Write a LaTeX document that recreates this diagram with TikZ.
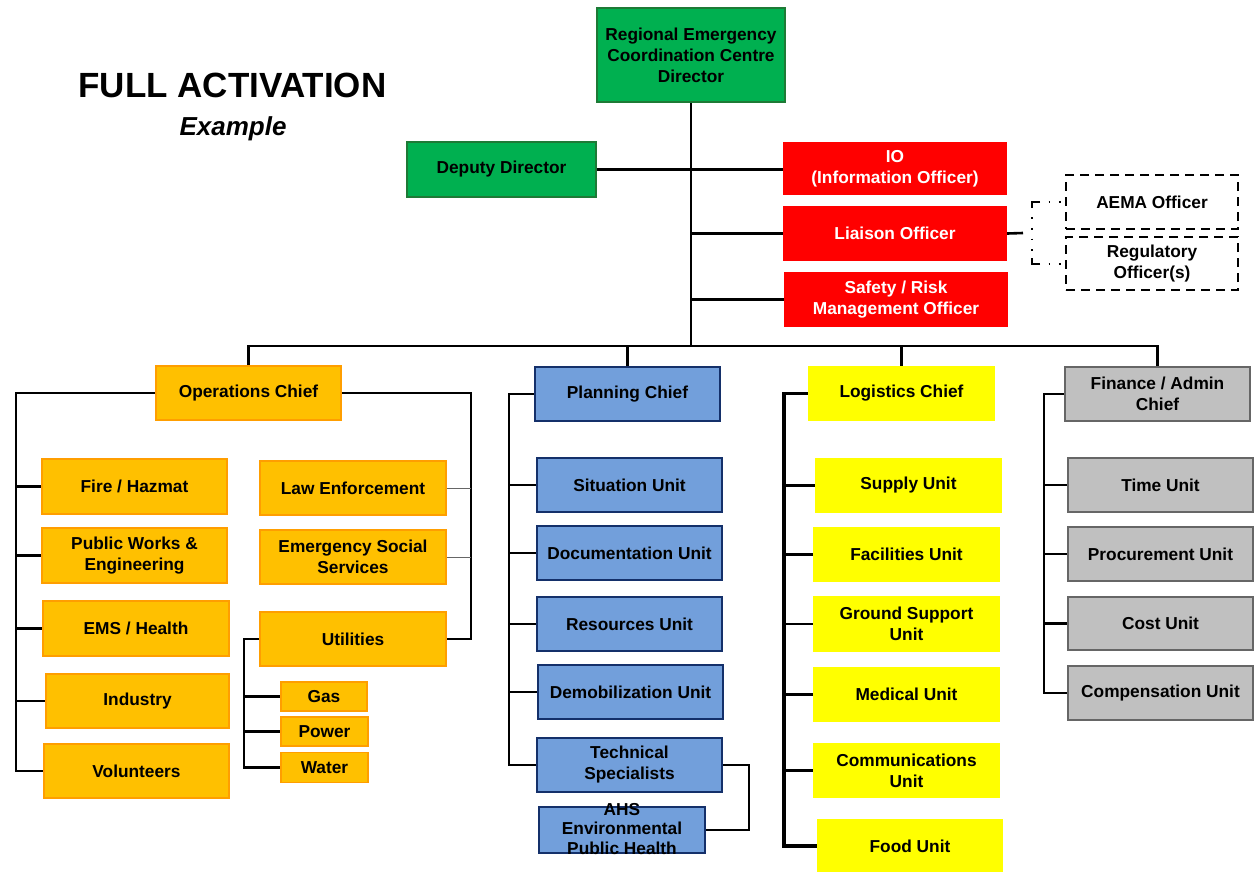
\documentclass[tikz,border=0pt]{standalone}
\usepackage{fontspec}
\setmainfont{Liberation Sans}
\begin{document}
\begin{tikzpicture}[x=1pt,y=-1pt,
  wh/.style 2 args={minimum width=#1pt, minimum height=#2pt},
  box/.style={inner sep=0pt, align=center, text=black,
    font=\bfseries\fontsize{17.3}{21}\selectfont},
  green/.style={box, fill=grnF, draw=grnD, line width=1.8pt},
  redb/.style={box, fill=redF, text=white},
  ops/.style={box, fill=orgF, draw=orgD, line width=1.8pt},
  plan/.style={box, fill=bluF, draw=bluD, line width=1.8pt},
  logi/.style={box, fill=yelF},
  fin/.style={box, fill=gryF, draw=gryD, line width=1.8pt},
  ext/.style={box, draw=black, line width=1.8pt, dash pattern=on 9pt off 6pt},
  link/.style={draw=black, line width=2.6pt},
  thinlink/.style={draw=black!60, line width=1pt},
  extlink/.style={draw=black, line width=1.8pt},
]
\definecolor{grnF}{HTML}{00B050}
\definecolor{grnD}{HTML}{1E7A36}
\definecolor{redF}{HTML}{FF0000}
\definecolor{orgF}{HTML}{FFC000}
\definecolor{orgD}{HTML}{FF9E00}
\definecolor{bluF}{HTML}{729FDB}
\definecolor{bluD}{HTML}{14306A}
\definecolor{yelF}{HTML}{FFFF00}
\definecolor{gryF}{HTML}{C0C0C0}
\definecolor{gryD}{HTML}{666666}

\useasboundingbox (0,0) rectangle (1254,871);

% title
\node[font=\bfseries\fontsize{35}{40}\selectfont] (title) at (232.5,85) {FULL ACTIVATION};
\node[font=\bfseries\itshape\fontsize{26}{30}\selectfont] (subtitle) at (233,129) {Example};

% command staff
\node[green, wh={188}{94}] (dir) at (691,55) {Regional Emergency\\Coordination Centre\\Director};
\node[green, wh={189}{55}] (dep) at (501.5,169.5) {Deputy Director};
\node[redb, wh={224}{53}] (io) at (895,168.5) {IO\\(Information Officer)};
\node[redb, wh={224}{55}] (lia) at (895,233.5) {Liaison Officer};
\node[redb, wh={224}{55}] (saf) at (896,299.5) {Safety / Risk\\Management Officer};
\node[ext, wh={172}{54}] (aema) at (1152,202) {AEMA Officer};
\node[ext, wh={172}{53}] (reg) at (1152,263.5) {Regulatory\\Officer(s)};

% section chiefs
\node[ops, wh={185}{54}] (opsC) at (248.5,393) {Operations Chief};
\node[plan, wh={185}{54}] (planC) at (627.5,394) {Planning Chief};
\node[logi, wh={187}{55}] (logC) at (901.5,393.5) {Logistics Chief};
\node[fin, wh={185}{54}] (finC) at (1157.5,394) {Finance / Admin\\Chief};

% operations branches
\node[ops, wh={185}{55}] (fire) at (134.5,486.5) {Fire / Hazmat};
\node[ops, wh={185}{55}] (pw) at (134.5,555.5) {Public Works \&\\Engineering};
\node[ops, wh={186}{55}] (ems) at (136,628.5) {EMS / Health};
\node[ops, wh={183}{54}] (ind) at (137.5,701) {Industry};
\node[ops, wh={185}{54}] (vol) at (136.5,771) {Volunteers};
\node[ops, wh={186}{54}] (law) at (353,488) {Law Enforcement};
\node[ops, wh={186}{54}] (ess) at (353,557) {Emergency Social\\Services};
\node[ops, wh={186}{54}] (util) at (353,639) {Utilities};
\node[ops, wh={86}{29}] (gas) at (324,696.5) {Gas};
\node[ops, wh={87}{29}] (pow) at (324.5,731.5) {Power};
\node[ops, wh={87}{30}] (wat) at (324.5,767.5) {Water};

% planning units
\node[plan, wh={185}{54}] (sit) at (629.5,485) {Situation Unit};
\node[plan, wh={185}{54}] (doc) at (629.5,553) {Documentation Unit};
\node[plan, wh={185}{54}] (res) at (629.5,624) {Resources Unit};
\node[plan, wh={185}{54}] (demob) at (630.5,692) {Demobilization Unit};
\node[plan, wh={185}{54}] (tech) at (629.5,765) {Technical\\Specialists};
\node[plan, wh={166}{46}] (ahs) at (622,830) {};
\begin{scope}
  \clip (530,802) rectangle (715,857);
  \node[box, font=\bfseries\fontsize{17.3}{19.5}\selectfont] (ahsT) at (622,829) {AHS\\Environmental\\Public Health};
\end{scope}

% logistics units
\node[logi, wh={187}{55}] (sup) at (908.5,485.5) {Supply Unit};
\node[logi, wh={187}{55}] (fac) at (906.5,554.5) {Facilities Unit};
\node[logi, wh={187}{56}] (gs) at (906.5,624) {Ground Support\\Unit};
\node[logi, wh={187}{55}] (med) at (906.5,694.5) {Medical Unit};
\node[logi, wh={187}{55}] (com) at (906.5,770.5) {Communications\\Unit};
\node[logi, wh={186}{54}] (food) at (910,846) {Food Unit};

% finance units
\node[fin, wh={185}{54}] (time) at (1160.5,485) {Time Unit};
\node[fin, wh={185}{54}] (proc) at (1160.5,554) {Procurement Unit};
\node[fin, wh={185}{53}] (cost) at (1160.5,623.5) {Cost Unit};
\node[fin, wh={185}{54}] (comp) at (1160.5,693) {Compensation Unit};

% junction points
\coordinate (bus) at (691,346);
\coordinate (opsL) at (16,393);
\coordinate (opsR) at (471,393);
\coordinate (utilL) at (244,639);
\coordinate (planL) at (509,393);
\coordinate (logL) at (784,393);
\coordinate (finL) at (1044,393);
\coordinate (liaJ) at (1023,233);
\coordinate (extT) at (1032,202);
\coordinate (extB) at (1032,264);

% command trunk
\draw[link] (dir.south) -- (bus);
\draw[link] (dep.east) -- (dep.east -| io.west);
\draw[link] (dir.south |- lia.west) -- (lia.west);
\draw[link] (dir.south |- saf.west) -- (saf.west);
\draw[link] (lia.east) -- (liaJ);

% dotted bracket to the external officers
\draw[extlink] ([xshift=8pt]extT) -- (extT) -- ++(0,6);
\draw[extlink] ([xshift=8pt]extB) -- (extB) -- ++(0,-6);
\draw[extlink, dash pattern=on 1.8pt off 8.5pt] ([xshift=8pt]extT) ++(8.5,0) -- (aema.west);
\draw[extlink, dash pattern=on 1.8pt off 8.5pt] ([xshift=8pt]extB) ++(8.5,0) -- (reg.west |- extB);
\draw[extlink, dash pattern=on 1.8pt off 9pt] (extT) ++(0,15) -- (extB);

% bus to chiefs
\draw[link] (opsC.north) |- (bus) -| (finC.north);
\draw[link] (planC.north) -- (planC.north |- bus);
\draw[link] (logC.north) -- (logC.north |- bus);

% operations
\draw[link] (opsC.west) -- (opsL) |- (vol.west);
\foreach \n in {fire,pw,ems,ind} \draw[link] (opsL |- \n.west) -- (\n.west);
\draw[link] (opsC.east) -- (opsR) |- (util.east);
\draw[thinlink] (law.east) -- (law.east -| opsR);
\draw[thinlink] (ess.east) -- (ess.east -| opsR);
\draw[link] (util.west) -- (utilL) |- (wat.west);
\foreach \n in {gas,pow} \draw[link] (utilL |- \n.west) -- (\n.west);

% planning
\draw[link] (planC.west) -- (planL |- planC.west) |- (tech.west);
\foreach \n in {sit,doc,res,demob} \draw[link] (planL |- \n.west) -- (\n.west);
\draw[link] (tech.east) -- ++(26,0) |- (ahs.east);

% logistics
\draw[draw=black, line width=3.2pt] (logC.west) -- (logL |- logC.west) |- (food.west);
\foreach \n in {sup,fac,gs,med,com} \draw[link] (logL |- \n.west) -- (\n.west);

% finance
\draw[link] (finC.west) -- (finL |- finC.west) |- (comp.west);
\foreach \n in {time,proc,cost} \draw[link] (finL |- \n.west) -- (\n.west);
\end{tikzpicture}
\end{document}
